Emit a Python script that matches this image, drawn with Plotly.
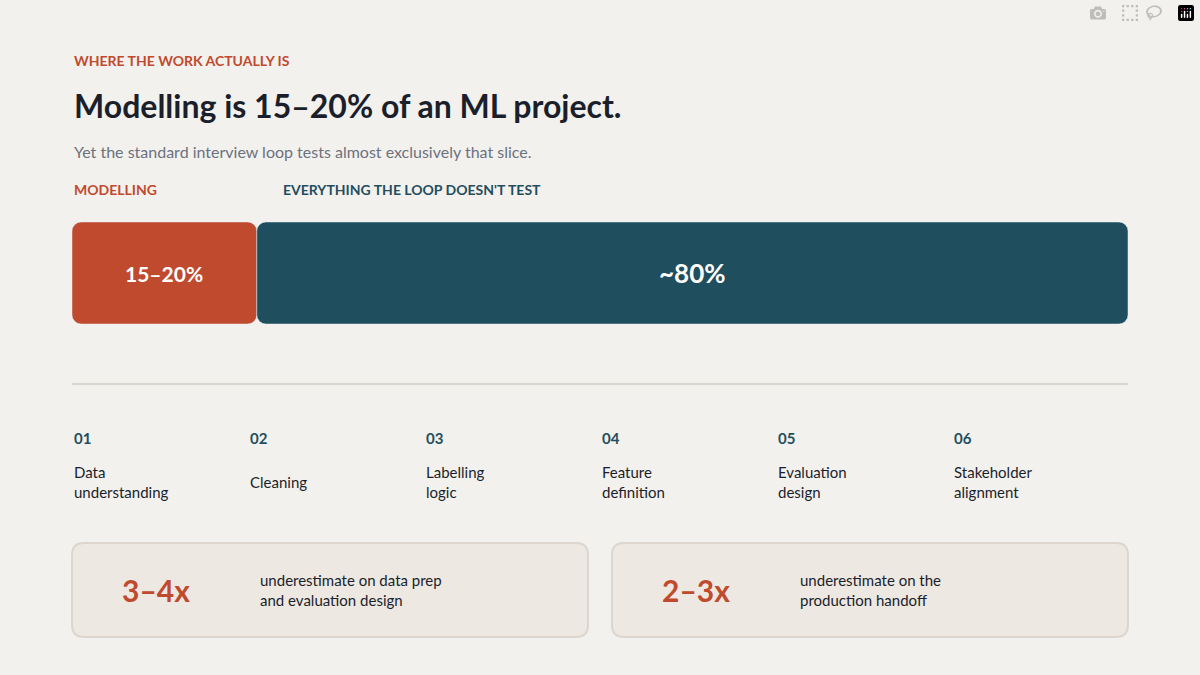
import plotly.graph_objects as go

W, H = 1200, 675
segments = ["Modelling", "Everything else"]
shares = [17.5, 82.5]
seg_labels = ["15–20%", "~80%"]
seg_colors = ["#C04A2E", "#1F4E5F"]
step_nums = ["01", "02", "03", "04", "05", "06"]
step_names = ["Data<br>understanding", "Cleaning", "Labelling<br>logic", "Feature<br>definition",
              "Evaluation<br>design", "Stakeholder<br>alignment"]
card_values = ["3–4x", "2–3x"]
card_texts = ["underestimate on data prep<br>and evaluation design", "underestimate on the<br>production handoff"]

BG = "#F3F1ED"; ORANGE = "#C04A2E"; TEAL = "#1F4E5F"; DARK = "#1A1F2B"; GRAY = "#6B7280"
FONT = "Lato"

def px(x): return x / W
def py(y): return 1 - y / H

fig = go.Figure()
fig.add_bar(y=[0], x=[-shares[0]], base=[shares[0]], orientation="h", marker_color=seg_colors[0],
            width=1, hoverinfo="skip", showlegend=False)
fig.add_bar(y=[0], x=[shares[1]], base=[shares[0]], orientation="h", marker_color=seg_colors[1],
            width=1, hoverinfo="skip", showlegend=False)

ann = [
    dict(x=shares[0] / 2, y=0, xref="x", yref="y", text="<b>%s</b>" % seg_labels[0],
         showarrow=False, font=dict(family=FONT, size=21, color="white")),
    dict(x=shares[0] + shares[1] / 2, y=0, xref="x", yref="y", text="<b>%s</b>" % seg_labels[1],
         showarrow=False, font=dict(family=FONT, size=26, color="white")),
]

def text(x, y, t, size, color, bold=False):
    ann.append(dict(x=px(x), y=py(y), xref="paper", yref="paper", text=("<b>%s</b>" % t) if bold else t,
                    showarrow=False, xanchor="left", yanchor="middle", align="left",
                    font=dict(family=FONT, size=size, color=color)))

text(72, 60, "WHERE THE WORK ACTUALLY IS", 14, ORANGE, True)
text(72, 105, "Modelling is 15–20% of an ML project.", 32, DARK, True)
text(72, 151, "Yet the standard interview loop tests almost exclusively that slice.", 16, GRAY)
text(72, 190, "MODELLING", 14, ORANGE, True)
text(281, 190, "EVERYTHING THE LOOP DOESN'T TEST", 14, TEAL, True)

for i, (n, s) in enumerate(zip(step_nums, step_names)):
    x = 72 + 176 * i
    text(x, 438, n, 15, TEAL, True)
    text(x, 482, s, 15, DARK)

shapes = [dict(type="line", xref="paper", yref="paper", x0=px(72), x1=px(1128), y0=py(384), y1=py(384),
               line=dict(color="#D9D5CF", width=2))]

def rrect(x0, y0, x1, y1, r):
    X0, X1 = px(x0), px(x1); Y0, Y1 = py(y1), py(y0)
    rx, ry = r / W, r / H
    return (f"M{X0+rx},{Y0} L{X1-rx},{Y0} Q{X1},{Y0} {X1},{Y0+ry} L{X1},{Y1-ry} Q{X1},{Y1} {X1-rx},{Y1} "
            f"L{X0+rx},{Y1} Q{X0},{Y1} {X0},{Y1-ry} L{X0},{Y0+ry} Q{X0},{Y0} {X0+rx},{Y0} Z")

for i, (v, t) in enumerate(zip(card_values, card_texts)):
    x0 = 72 + 540 * i
    shapes.append(dict(type="path", xref="paper", yref="paper", path=rrect(x0, 543, x0 + 516, 637, 12),
                       fillcolor="#EDE8E2", line=dict(color="#DDD6CE", width=2), layer="below"))
    text(x0 + 48, 590, v, 30, ORANGE, True)
    text(x0 + 186, 590, t, 15, DARK)

fig.update_layout(
    width=W, height=H, margin=dict(l=0, r=0, t=0, b=0), paper_bgcolor=BG, plot_bgcolor=BG,
    barmode="overlay", barcornerradius=9, annotations=ann, shapes=shapes,
    xaxis=dict(domain=[px(72), px(1128)], range=[0, 100], visible=False, fixedrange=True),
    yaxis=dict(domain=[py(324), py(222)], range=[-0.5, 0.5], visible=False, fixedrange=True),
)
fig.write_html("out.html")
with open("out.html", encoding="utf-8") as f:
    html = f.read()
html = html.replace("<head>", "<head><style>html,body{margin:0;padding:0;overflow:hidden;background:%s}</style>" % BG, 1)
with open("out.html", "w", encoding="utf-8") as f:
    f.write(html)
